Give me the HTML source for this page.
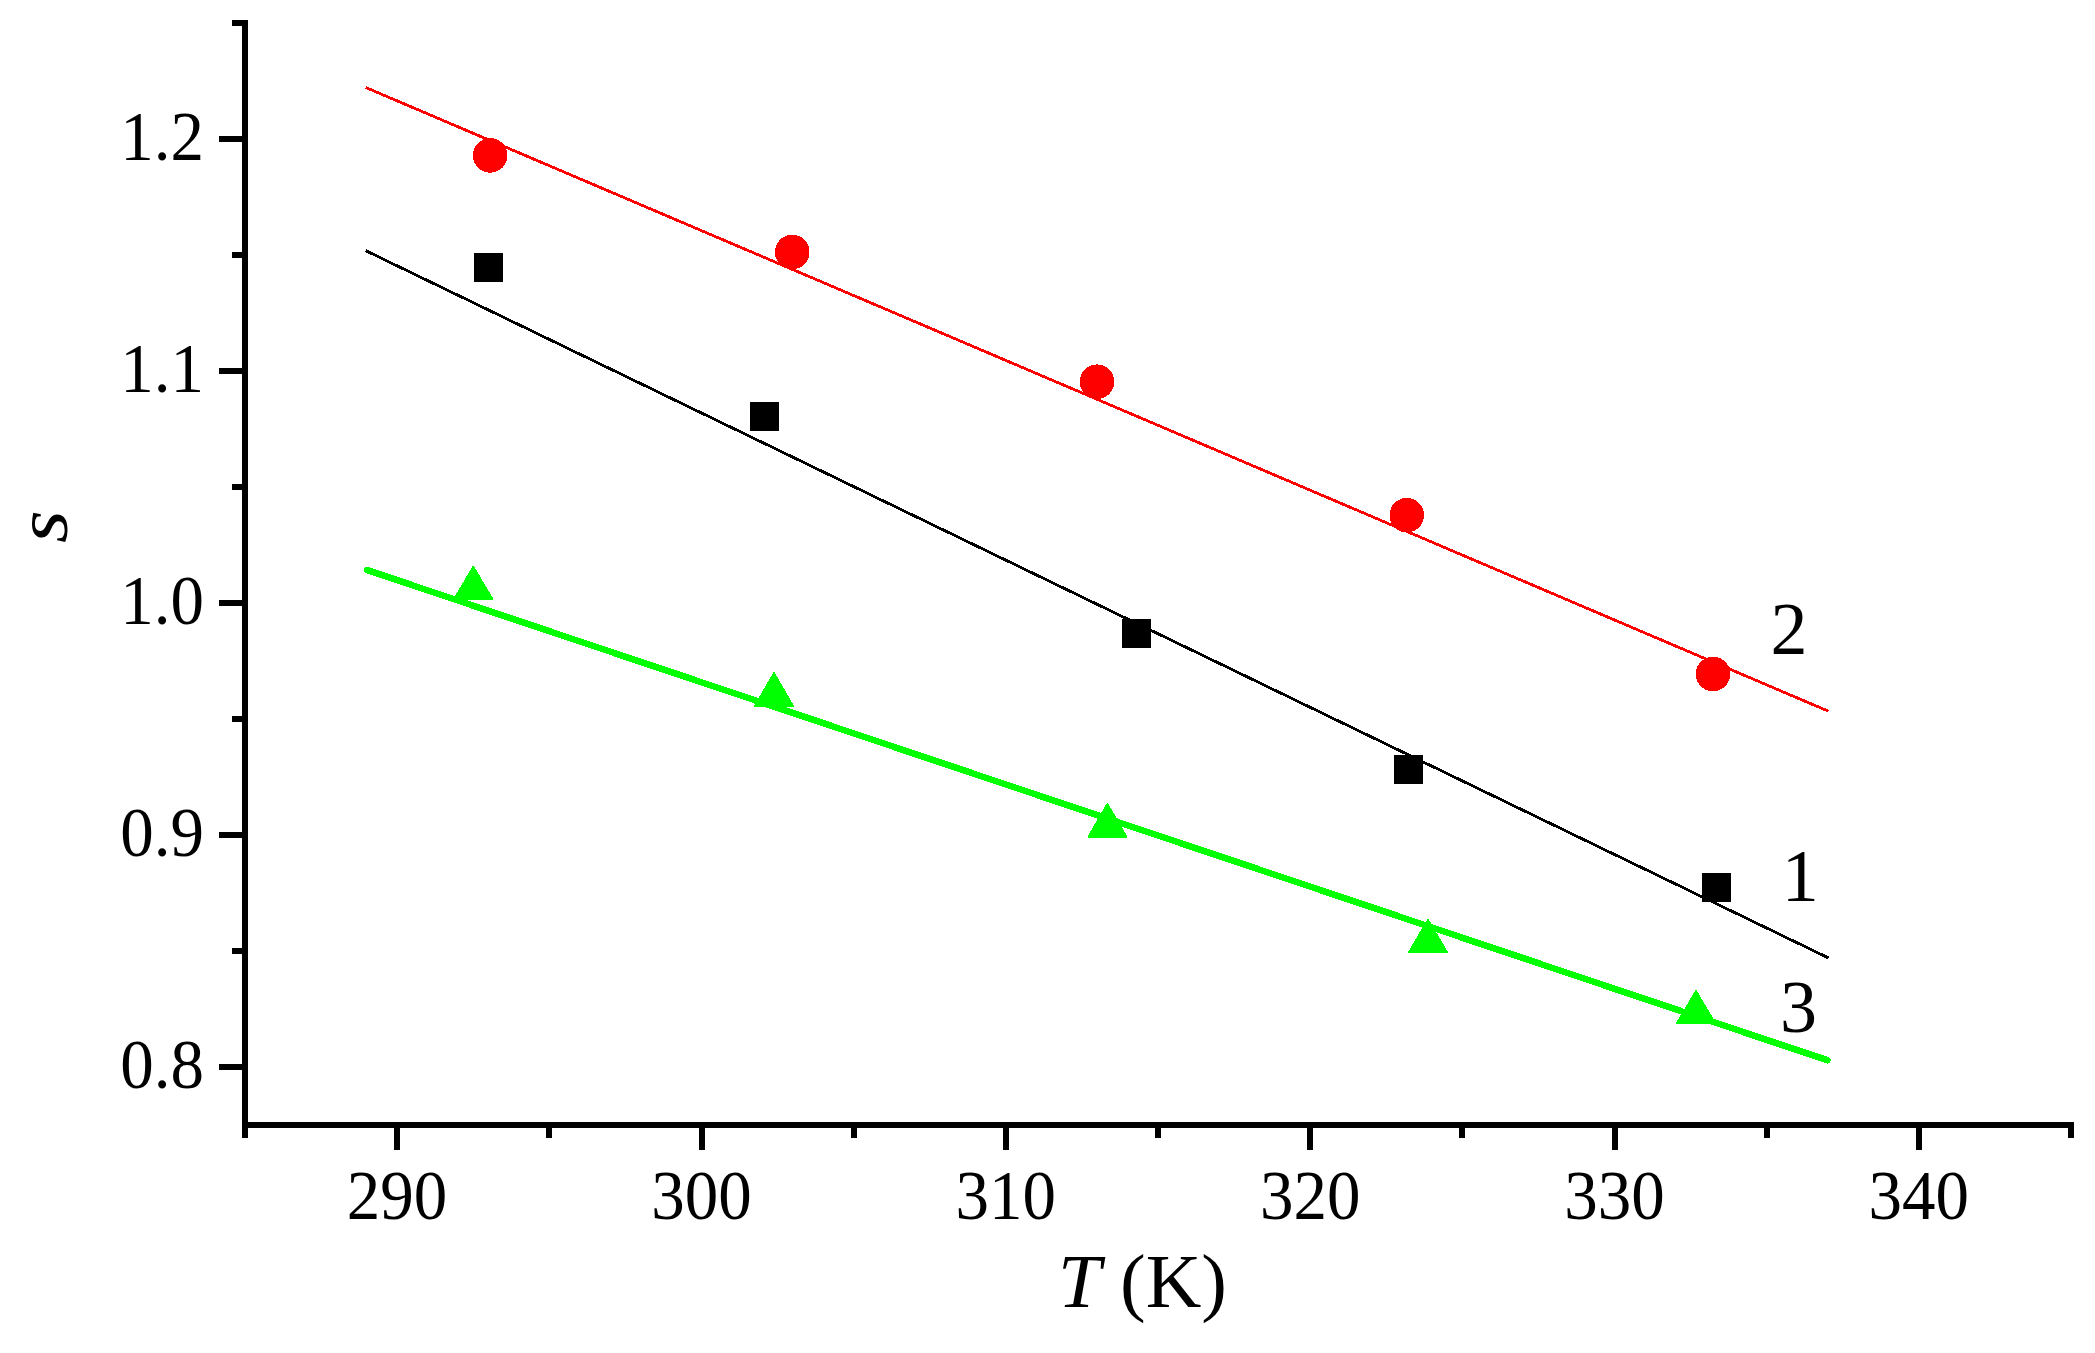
<!DOCTYPE html>
<html>
<head>
<meta charset="utf-8">
<title>s vs T (K)</title>
<style>
html,body{margin:0;padding:0;background:#fff;}
body{width:2095px;height:1353px;overflow:hidden;}
svg{display:block;}
text{font-family:"Liberation Serif","Times New Roman",serif;fill:#000;}
</style>
</head>
<body>
<svg width="2095" height="1353" viewBox="0 0 2095 1353">
<rect x="0" y="0" width="2095" height="1353" fill="#ffffff"/>

<!-- fitted lines -->
<g fill="none" shape-rendering="crispEdges">
<line x1="365.6" y1="87.4" x2="1828.4" y2="711.2" stroke="#ff0000" stroke-width="2.8"/>
<line x1="365.6" y1="250.6" x2="1828.6" y2="958" stroke="#000000" stroke-width="2.8"/>
<line x1="367" y1="570" x2="1827.3" y2="1060.2" stroke="#00ff00" stroke-width="6.5" stroke-linecap="round"/>
</g>

<!-- markers: series 2 (red circles) -->
<g fill="#ff0000" shape-rendering="crispEdges">
<circle cx="490.2" cy="155.4" r="17.3"/>
<circle cx="792.2" cy="252" r="17.3"/>
<circle cx="1097" cy="381.7" r="17.3"/>
<circle cx="1406.8" cy="515.2" r="17.3"/>
<circle cx="1713" cy="674" r="17.3"/>
</g>

<!-- markers: series 1 (black squares) -->
<g fill="#000000" shape-rendering="crispEdges">
<rect x="474" y="253" width="29" height="29"/>
<rect x="750" y="402" width="29" height="29"/>
<rect x="1122" y="619" width="29" height="29"/>
<rect x="1394" y="755" width="29" height="29"/>
<rect x="1702" y="873" width="29" height="29"/>
</g>

<!-- markers: series 3 (green triangles) -->
<g fill="#00ff00" stroke="#00ff00" stroke-width="2" stroke-linejoin="round" shape-rendering="crispEdges">
<polygon points="473.3,566.9000000000001 492.3,599.1 454.3,599.1"/>
<polygon points="774,673.2 793,706.1999999999999 755,706.1999999999999"/>
<polygon points="1107.4,804.2 1126.4,837.0 1088.4,837.0"/>
<polygon points="1428,920.0 1447,952.4 1409,952.4"/>
<polygon points="1696,991.2 1715,1023.1 1677,1023.1"/>
</g>

<!-- axes -->
<g fill="#000000" shape-rendering="crispEdges">
<rect x="242" y="20" width="6" height="1118"/>
<rect x="242" y="1122" width="1832" height="6"/>
<!-- y major ticks -->
<rect x="219" y="136" width="26" height="6"/>
<rect x="219" y="368" width="26" height="6"/>
<rect x="219" y="600" width="26" height="6"/>
<rect x="219" y="832" width="26" height="6"/>
<rect x="219" y="1064" width="26" height="6"/>
<!-- y minor ticks -->
<rect x="232" y="20" width="13" height="6"/>
<rect x="232" y="252" width="13" height="6"/>
<rect x="232" y="484" width="13" height="6"/>
<rect x="232" y="716" width="13" height="6"/>
<rect x="232" y="948" width="13" height="6"/>
<!-- x major ticks -->
<rect x="394" y="1125" width="6" height="25"/>
<rect x="698.5" y="1125" width="6" height="25"/>
<rect x="1002.8" y="1125" width="6" height="25"/>
<rect x="1307.2" y="1125" width="6" height="25"/>
<rect x="1611.5" y="1125" width="6" height="25"/>
<rect x="1915.8" y="1125" width="6" height="25"/>
<!-- x minor ticks -->
<rect x="546.2" y="1125" width="6" height="13"/>
<rect x="850.5" y="1125" width="6" height="13"/>
<rect x="1154.8" y="1125" width="6" height="13"/>
<rect x="1459.2" y="1125" width="6" height="13"/>
<rect x="1763.5" y="1125" width="6" height="13"/>
<rect x="2068" y="1125" width="6" height="13"/>
</g>

<!-- y tick labels -->
<g font-size="68" text-anchor="end">
<text transform="translate(204,160) scale(0.985,1.04)">1.2</text>
<text transform="translate(204,392) scale(0.985,1.04)">1.1</text>
<text transform="translate(204,624) scale(0.985,1.04)">1.0</text>
<text transform="translate(204,856) scale(0.985,1.04)">0.9</text>
<text transform="translate(204,1088) scale(0.985,1.04)">0.8</text>
</g>

<!-- x tick labels -->
<g font-size="68" text-anchor="middle">
<text transform="translate(397,1219) scale(0.985,1.04)">290</text>
<text transform="translate(701.5,1219) scale(0.985,1.04)">300</text>
<text transform="translate(1005.8,1219) scale(0.985,1.04)">310</text>
<text transform="translate(1310.2,1219) scale(0.985,1.04)">320</text>
<text transform="translate(1614.5,1219) scale(0.985,1.04)">330</text>
<text transform="translate(1918.8,1219) scale(0.985,1.04)">340</text>
</g>

<!-- axis titles -->
<text x="1142.5" y="1307" font-size="77" text-anchor="middle"><tspan font-style="italic">T</tspan> (K)</text>
<text transform="translate(66.9,526.6) rotate(-90) scale(1.08,0.955)" font-size="78" font-style="italic" text-anchor="middle">s</text>

<!-- series labels -->
<g font-size="74" text-anchor="middle">
<text x="1789" y="654">2</text>
<text x="1800.2" y="901">1</text>
<text x="1798.5" y="1032">3</text>
</g>
</svg>
</body>
</html>
